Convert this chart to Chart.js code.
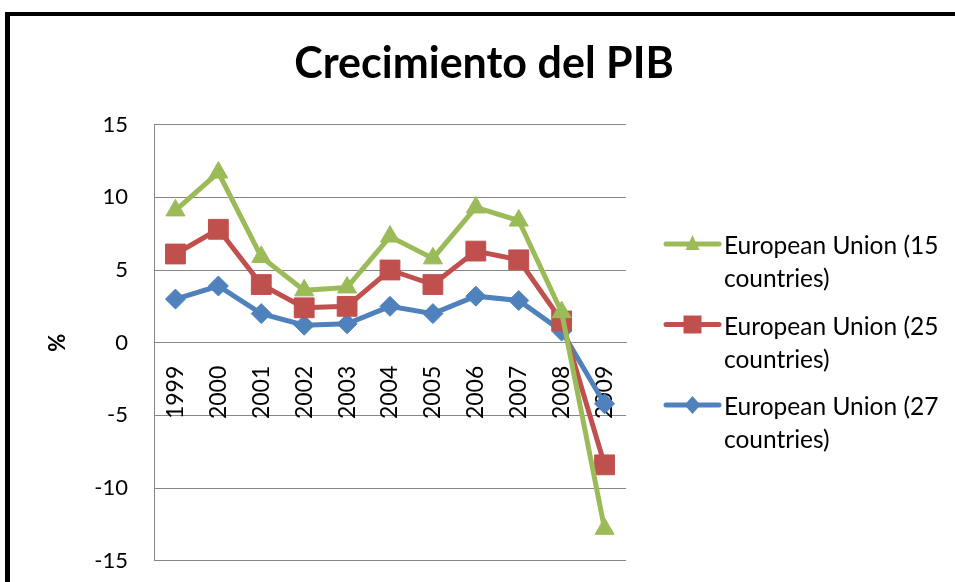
<!DOCTYPE html>
<html>
<head>
<meta charset="utf-8">
<script src="https://cdn.jsdelivr.net/npm/chart.js@4/dist/chart.umd.min.js"></script>
<style>
  body { margin: 0; background: #fff; overflow: hidden; }
  #wrap { position: relative; width: 955px; height: 600px; }
  #frame { position: absolute; left: 5px; top: 12px; width: 960px; height: 620px;
           border-left: 5px solid #000; border-top: 4px solid #000; pointer-events: none; }
</style>
</head>
<body>
<div id="wrap">
  <canvas id="grafico"></canvas>
  <div id="frame"></div>
</div>
<script>
// datos
const years = ['1999', '2000', '2001', '2002', '2003', '2004', '2005', '2006', '2007', '2008', '2009'];
const eu15 = [9.1, 11.7, 5.9, 3.6, 3.8, 7.3, 5.8, 9.3, 8.4, 2.1, -12.8];
const eu25 = [6.1, 7.8, 4.0, 2.4, 2.5, 5.0, 4.0, 6.3, 5.7, 1.5, -8.4];
const eu27 = [3.0, 3.9, 2.0, 1.2, 1.3, 2.5, 2.0, 3.2, 2.9, 0.8, -4.2];
const seriesNames = [['European Union (15', 'countries)'], ['European Union (25', 'countries)'], ['European Union (27', 'countries)']];
const yTicks = [-15, -10, -5, 0, 5, 10, 15];

const gridColor = '#878787';

// leyenda a la derecha, dibujada a mano (el texto va en dos líneas)
const legendaPlugin = {
    id: 'legenda',
    afterDraw(chart) {
        const ctx = chart.ctx;
        chart.data.datasets.forEach((ds, i) => {
            const y = 244 + i * 80.5;
            ctx.save();
            ctx.strokeStyle = ds.borderColor;
            ctx.lineWidth = 5;
            ctx.lineCap = 'round';
            ctx.beginPath();
            ctx.moveTo(666, y);
            ctx.lineTo(719, y);
            ctx.stroke();
            ctx.fillStyle = ds.borderColor;
            ctx.beginPath();
            const cx = 692.5;
            if (ds.pointStyle === 'triangle') {
                ctx.moveTo(cx, y - 9); ctx.lineTo(cx + 7, y + 6); ctx.lineTo(cx - 7, y + 6);
            } else if (ds.pointStyle === 'rect') {
                ctx.rect(cx - 9, y - 9, 18, 18);
            } else {
                ctx.moveTo(cx, y - 9); ctx.lineTo(cx + 8, y); ctx.lineTo(cx, y + 9); ctx.lineTo(cx - 8, y);
            }
            ctx.closePath();
            ctx.fill();
            ctx.fillStyle = '#000';
            ctx.font = '24.5px Lato';
            ctx.textBaseline = 'alphabetic';
            ctx.textAlign = 'left';
            seriesNames[i].forEach((line, j) => {
                ctx.fillText(line, 724, y + 10 + j * 33);
            });
            ctx.restore();
        });
    }
};

new Chart(document.getElementById('grafico'), {
    type: 'line',
    data: {
        labels: years,
        datasets: [
            {
                label: seriesNames[0].join(' '),
                data: eu15,
                borderColor: '#9BBB59',
                backgroundColor: '#9BBB59',
                borderWidth: 5,
                pointStyle: 'triangle',
                pointRadius: 11,
                pointBorderWidth: 1
            },
            {
                label: seriesNames[1].join(' '),
                data: eu25,
                borderColor: '#C0504D',
                backgroundColor: '#C0504D',
                borderWidth: 5,
                pointStyle: 'rect',
                pointRadius: 14,
                pointBorderWidth: 1
            },
            {
                label: seriesNames[2].join(' '),
                data: eu27,
                borderColor: '#4F81BD',
                backgroundColor: '#4F81BD',
                borderWidth: 5,
                pointStyle: 'rectRot',
                pointRadius: 10,
                pointBorderWidth: 1
            }
        ]
    },
    options: {
        responsive: true,
        maintainAspectRatio: false,
        animation: false,
        layout: { padding: { left: 13, top: 0, right: 0, bottom: 5 } },
        plugins: {
            legend: { display: false },
            tooltip: { enabled: false },
            title: {
                display: true,
                text: 'Crecimiento del PIB',
                color: '#000',
                font: { family: 'Lato', size: 43, weight: 'bold' },
                padding: { top: 38, bottom: 35 }
            }
        },
        scales: {
            x: {
                position: { y: 0 },
                offset: true,
                grid: { display: false },
                border: { display: true, color: gridColor, width: 1 },
                ticks: {
                    color: '#000',
                    font: { family: 'Lato', size: 23 },
                    minRotation: 90,
                    maxRotation: 90,
                    autoSkip: false,
                    padding: 15
                }
            },
            y: {
                min: -15,
                max: 15,
                afterBuildTicks: s => { s.ticks = yTicks.map(v => ({ value: v })); },
                afterFit: s => { s.width = 141; },
                grid: { color: gridColor, lineWidth: 1, drawTicks: false },
                border: { display: true, color: gridColor, width: 1 },
                ticks: {
                    color: '#000',
                    font: { family: 'Lato', size: 22 },
                    padding: 26
                },
                title: {
                    display: true,
                    text: '%',
                    color: '#000',
                    font: { family: 'Lato', size: 22, weight: 'bold' },
                    padding: { top: 32, bottom: 0 }
                }
            },
            // eje vacío solo para reservar el hueco de la leyenda
            espacio: {
                type: 'linear',
                position: 'right',
                grid: { display: false },
                border: { display: false },
                ticks: { display: false },
                afterFit: s => { s.width = 329; }
            }
        }
    },
    plugins: [legendaPlugin]
});
</script>
</body>
</html>
